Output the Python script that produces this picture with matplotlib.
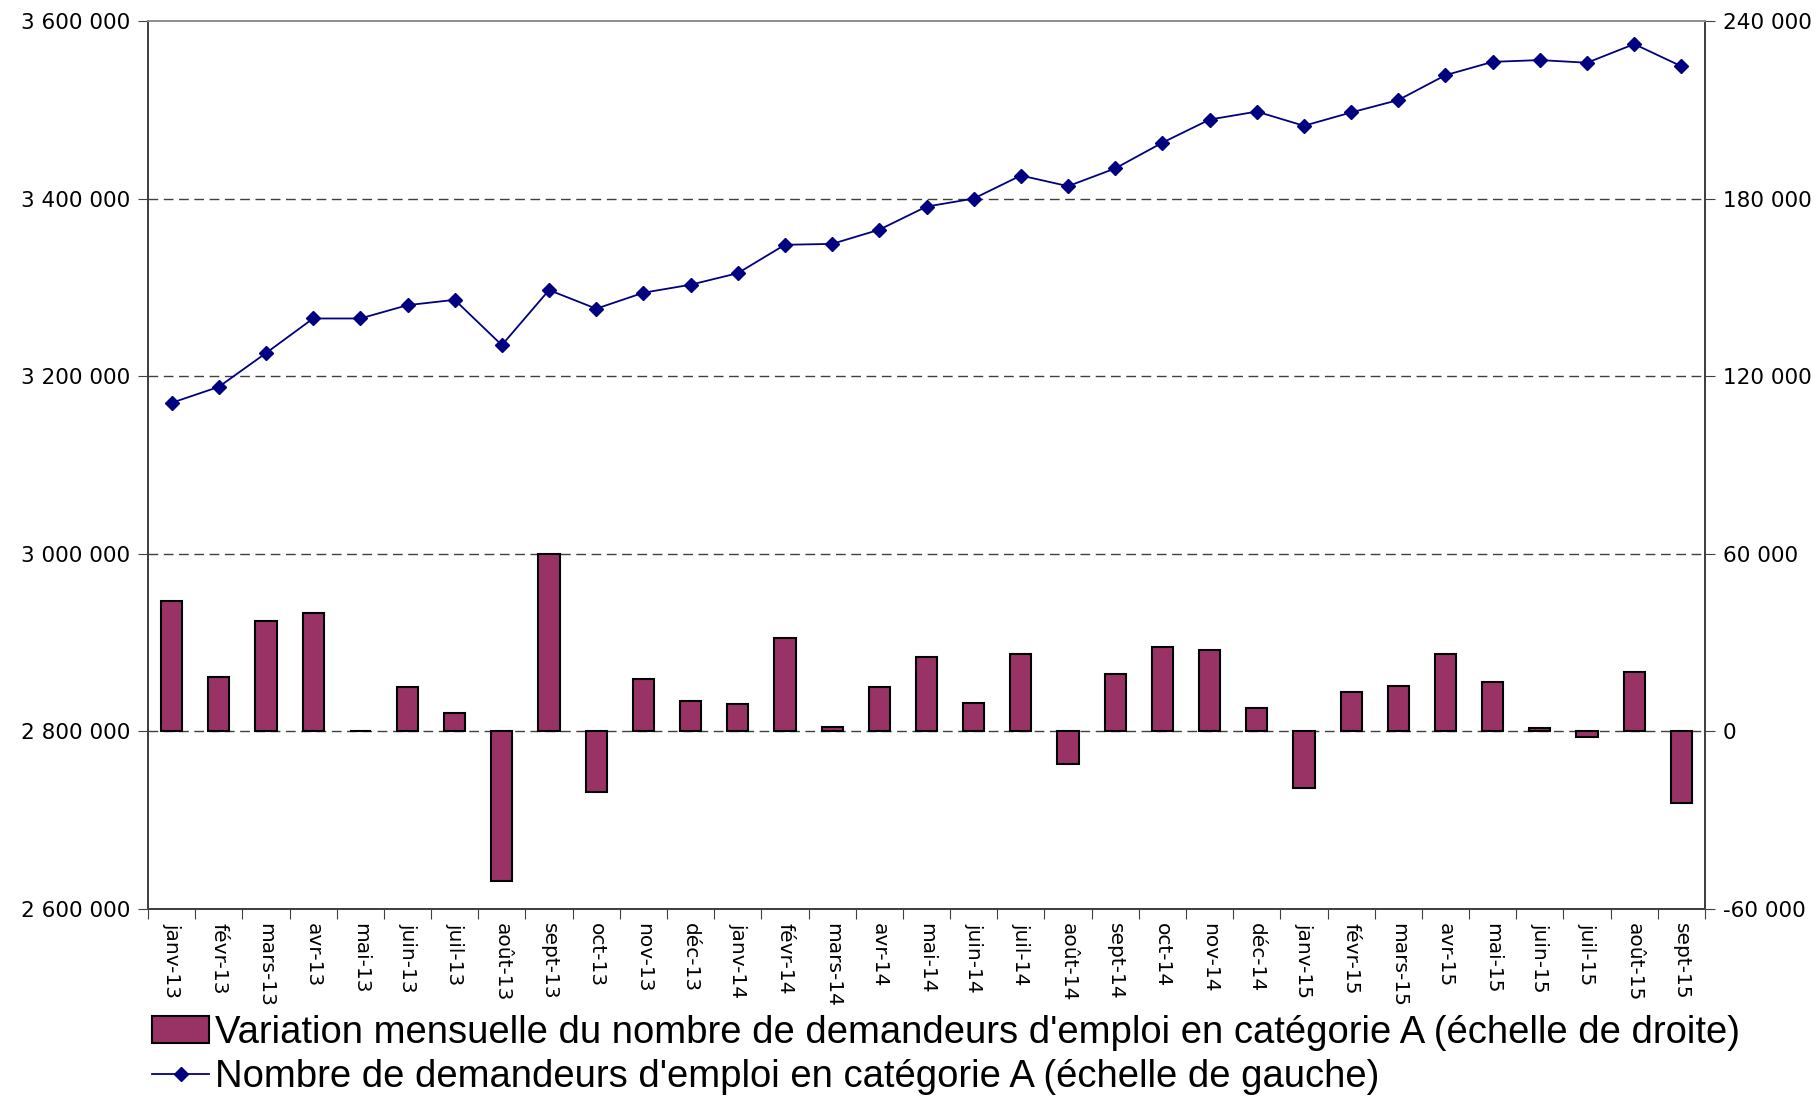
import matplotlib
matplotlib.use("Agg")
import matplotlib.pyplot as plt
from matplotlib.lines import Line2D
from matplotlib.patches import Patch
import numpy as np

months = ["janv-13", "févr-13", "mars-13", "avr-13", "mai-13", "juin-13", "juil-13",
          "août-13", "sept-13", "oct-13", "nov-13", "déc-13",
          "janv-14", "févr-14", "mars-14", "avr-14", "mai-14", "juin-14", "juil-14",
          "août-14", "sept-14", "oct-14", "nov-14", "déc-14",
          "janv-15", "févr-15", "mars-15", "avr-15", "mai-15", "juin-15", "juil-15",
          "août-15", "sept-15"]

demandeurs = [3170000, 3188000, 3226000, 3265000, 3265000, 3280000, 3286000,
              3235000, 3297000, 3276000, 3294000, 3303000,
              3316000, 3348000, 3349000, 3365000, 3391000, 3400000, 3426000,
              3414000, 3434000, 3463000, 3489000, 3498000,
              3482000, 3497000, 3511000, 3539000, 3554000, 3556000, 3553000,
              3574000, 3549000]

variation = [44000, 18300, 37200, 40000, 200, 14900, 6300,
             -50400, 60000, -20600, 17700, 10300,
             9100, 31400, 1600, 14900, 25200, 9700, 26300,
             -11100, 19400, 28400, 27400, 7900,
             -19100, 13200, 15300, 26200, 16600, 1000, -1800,
             20000, -24100]

left_ticks = [2600000, 2800000, 3000000, 3200000, 3400000, 3600000]
right_ticks = [-60000, 0, 60000, 120000, 180000, 240000]

label_bar = "Variation mensuelle du nombre de demandeurs d'emploi en catégorie A (échelle de droite)"
label_line = "Nombre de demandeurs d'emploi en catégorie A (échelle de gauche)"

bar_color = "#993366"
line_color = "#000080"

plt.rcParams['font.family'] = ['DejaVu Sans']

fig = plt.figure(figsize=(18.2, 10.98), dpi=100)
ax1 = fig.add_axes([148/1820, 1 - 909/1098, (1705-148)/1820, (909-21)/1098])
ax2 = ax1.twinx()

x = np.arange(len(months))

ax2.bar(x, variation, width=0.45, color=bar_color, edgecolor="black", linewidth=1.5, zorder=3)
ax1.plot(x, demandeurs, color=line_color, linewidth=1.3, marker="D", markersize=7,
         markerfacecolor=line_color, markeredgecolor=line_color, zorder=4)

ax1.set_zorder(ax2.get_zorder() + 1)
ax1.patch.set_visible(False)

ax1.set_xlim(-0.5, len(months) - 0.5)
ax1.set_ylim(2600000, 3600000)
ax2.set_ylim(-60000, 240000)

ax1.set_yticks(left_ticks)
ax1.set_yticklabels([f"{v:,}".replace(",", " ") for v in left_ticks])
ax2.set_yticks(right_ticks)
ax2.set_yticklabels([f"{v:,}".replace(",", " ") for v in right_ticks])

for yv in left_ticks[1:-1]:
    ax2.axhline((yv - 2800000) * 0.3, color="#404040", linestyle=(0, (7, 4)), linewidth=1.0, zorder=1)

ax1.set_xticks(np.arange(-0.5, len(months), 1.0))
ax1.set_xticklabels([])
ax1.set_xticks(x, minor=True)
ax1.set_xticklabels(months, minor=True, rotation=-90, fontsize=14.5, va="top", ha="center")
ax1.tick_params(axis="x", which="minor", length=0, pad=10)
ax1.tick_params(axis="x", which="major", length=7, direction="out", color="#404040")

ax1.tick_params(axis="y", labelsize=15.5, length=7, direction="out", pad=6, color="#404040")
ax2.tick_params(axis="y", labelsize=15.5, length=7, direction="out", pad=6, color="#404040")

for ax in (ax1, ax2):
    ax.spines["left"].set_color("#404040")
    ax.spines["right"].set_color("#404040")
    ax.spines["bottom"].set_color("#404040")
    ax.spines["top"].set_color("#909090")
    for s in ax.spines.values():
        s.set_linewidth(1.3)

handles = [Patch(facecolor=bar_color, edgecolor="black", linewidth=1.5),
           Line2D([0], [0], color=line_color, linewidth=1.3, marker="D", markersize=7)]
fig.legend(handles, [label_bar, label_line], loc="upper left",
           bbox_to_anchor=(152/1820, 1 - 1015/1098), frameon=False,
           prop={"family": "Liberation Sans", "size": 27.5},
           handlelength=1.5, handletextpad=0.15, labelspacing=0.22,
           borderaxespad=0, borderpad=0)

fig.savefig("out.png", dpi=100)
